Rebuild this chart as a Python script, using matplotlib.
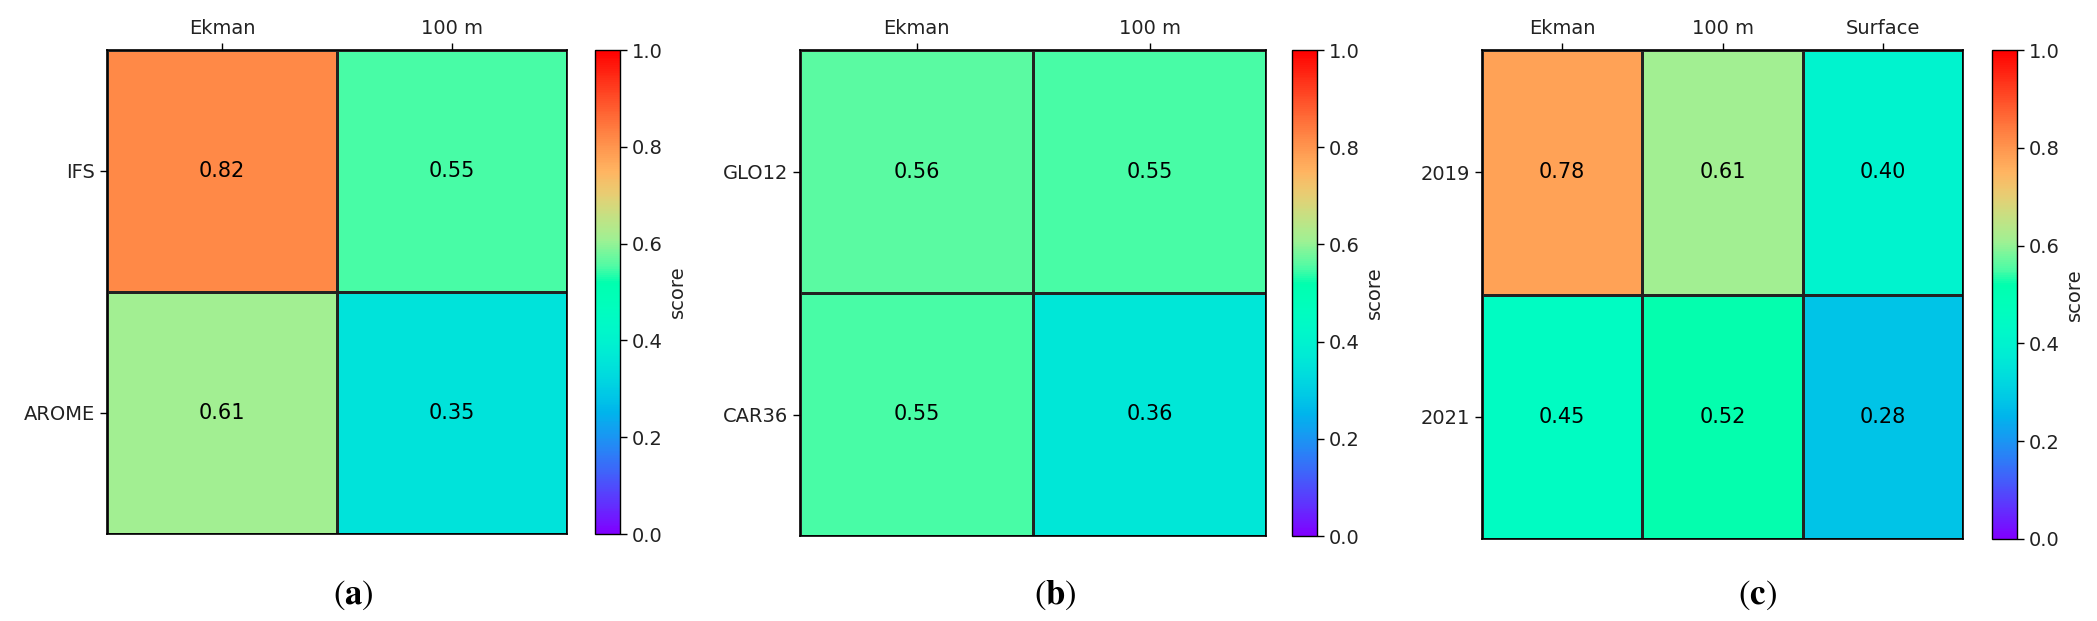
import matplotlib
matplotlib.use("Agg")
import matplotlib.pyplot as plt
import numpy as np
from matplotlib.colors import ListedColormap

plt.rcParams['mathtext.fontset'] = 'stix'

# panel (a): atmospheric forcing
a_rows = ['IFS', 'AROME']
a_cols = ['Ekman', '100 m']
a_vals = [[0.82, 0.55],
          [0.61, 0.35]]

# panel (b): ocean model
b_rows = ['GLO12', 'CAR36']
b_cols = ['Ekman', '100 m']
b_vals = [[0.56, 0.55],
          [0.55, 0.36]]

# panel (c): year
c_rows = ['2019', '2021']
c_cols = ['Ekman', '100 m', 'Surface']
c_vals = [[0.78, 0.61, 0.40],
          [0.45, 0.52, 0.28]]

cbar_ticks = [0.0, 0.2, 0.4, 0.6, 0.8, 1.0]

# rainbow, but with the red channel as it looks in the original figure
# (no red in the cyan / spring-green part)
xs = np.linspace(0, 1, 256)
rgba = plt.get_cmap('rainbow')(xs)
rgba[:, 0] = np.interp(xs, [0, 0.25, 0.52, 0.55, 0.61, 0.7, 0.75, 1.0],
                       [0.5, 0.0, 0.0, 0.29, 0.63, 0.9, 1.0, 1.0])
cmap = ListedColormap(rgba)

W, H = 2097, 621
fig = plt.figure(figsize=(W / 100, H / 100), dpi=100)


def frac_box(x0, x1, y0, y1):
    return [x0 / W, 1 - y1 / H, (x1 - x0) / W, (y1 - y0) / H]


def heatmap(ax_box, cax_box, rows, cols, vals, tag, tag_x):
    ax = fig.add_axes(frac_box(*ax_box))
    cax = fig.add_axes(frac_box(*cax_box))
    v = np.array(vals)
    mesh = ax.pcolormesh(v, cmap=cmap, vmin=0, vmax=1,
                         edgecolors='#222222', linewidth=0.8)
    ax.set_xlim(0, v.shape[1])
    ax.set_ylim(v.shape[0], 0)
    ax.set_xticks(np.arange(v.shape[1]) + 0.5)
    ax.set_xticklabels(cols, fontsize=14, color='#222222')
    ax.set_yticks(np.arange(v.shape[0]) + 0.5)
    ax.set_yticklabels(rows, fontsize=14, color='#222222')
    ax.xaxis.tick_top()
    ax.tick_params(length=5, width=1.0)
    for s in ax.spines.values():
        s.set_linewidth(1.2)
    for i in range(v.shape[0]):
        for j in range(v.shape[1]):
            ax.text(j + 0.5, i + 0.5, f"{v[i, j]:.2f}", ha='center', va='center',
                    fontsize=15, color='black')

    cb = fig.colorbar(mesh, cax=cax, ticks=cbar_ticks)
    cb.ax.tick_params(labelsize=14, length=5, width=1.0, labelcolor='#222222')
    cb.outline.set_linewidth(1.0)
    cb.set_label('score', fontsize=14, color='#222222')

    fig.text(tag_x / W, 1 - 595 / H, r'$(\mathbf{' + tag + r'})$', ha='center', va='center',
             fontsize=25)


heatmap((107, 567, 50, 534), (595, 620, 50, 534), a_rows, a_cols, a_vals, 'a', 353)
heatmap((800, 1266, 50, 536), (1292, 1317, 50, 536), b_rows, b_cols, b_vals, 'b', 1055)
heatmap((1482, 1963, 50, 539), (1992, 2017, 50, 539), c_rows, c_cols, c_vals, 'c', 1757)

fig.savefig('out.png', dpi=100)
